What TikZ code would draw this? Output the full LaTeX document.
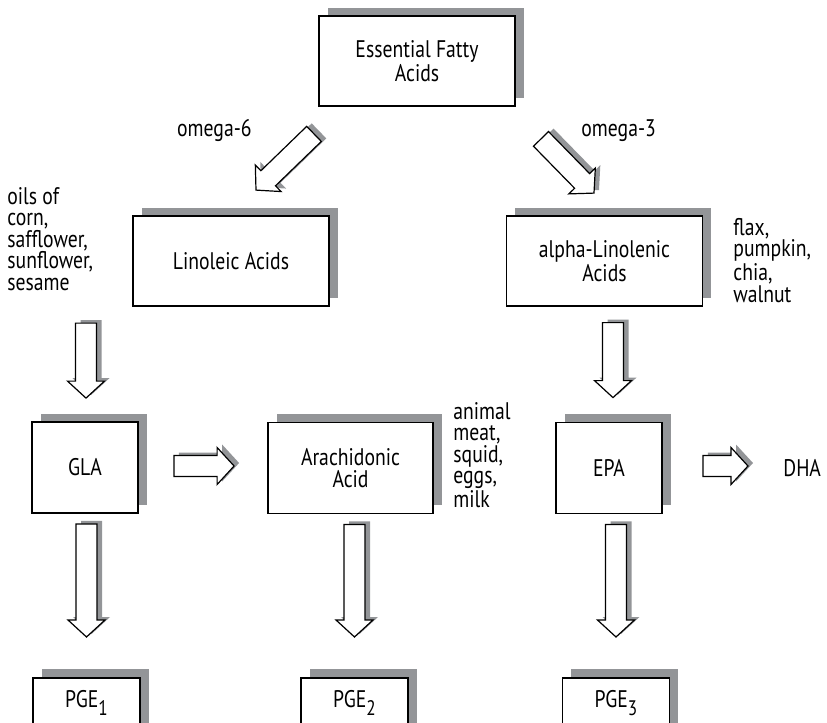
\documentclass[tikz,border=0pt]{standalone}
\usepackage{fontspec}
\setmainfont{PT Sans}[FakeStretch=0.82]
\usetikzlibrary{calc,shadows}
\definecolor{shadowgray}{RGB}{147,149,152}
\newcommand{\diagfont}{\fontsize{12}{10.75}\selectfont}
\newcommand{\lowsub}[1]{\raisebox{-4pt}{\fontsize{10.5}{10.5}\selectfont #1}}
\tikzset{
  acidbox/.style={draw, line width=0.9pt, fill=white, inner sep=0pt, align=center, font=\diagfont,
    general shadow={draw=none, fill=shadowgray, shadow xshift=4.25pt, shadow yshift=4.25pt}},
  sidetext/.style={inner sep=0pt, align=left, font=\diagfont},
  arrowbody/.style={fill=white, draw=black, line width=0.6pt, line join=miter},
  arrowshade/.style={fill=shadowgray},
}
% outline of a hollow block arrow from (fa-s) to (fa-e), moved by #1
\newcommand{\fatpath}[1]{%
  ($(fa-s)!5.25pt!90:(fa-e)+#1$) -- ($(fa-b)!5.25pt!90:(fa-e)+#1$)
  -- ($(fa-b)!9.25pt!90:(fa-e)+#1$) -- ($(fa-e)+#1$)
  -- ($(fa-b)!9.25pt!-90:(fa-e)+#1$) -- ($(fa-b)!5.25pt!-90:(fa-e)+#1$)
  -- ($(fa-s)!5.25pt!-90:(fa-e)+#1$) -- cycle}
\newcommand{\fatarrow}[2]{%
  \coordinate (fa-s) at #1;
  \coordinate (fa-e) at #2;
  \coordinate (fa-b) at ($(fa-e)!8.5pt!(fa-s)$);
  \fill[arrowshade] \fatpath{(2.5pt,1.5pt)};
  \draw[arrowbody] \fatpath{(0pt,0pt)};
}

\begin{document}
\begin{tikzpicture}[x=0.5pt, y=-0.5pt]
  \clip (0,0) rectangle (827,723);

  % boxes
  \node[acidbox, minimum width=98pt, minimum height=45pt] (efa) at (417,61) {Essential Fatty\\Acids};
  \node[acidbox, minimum width=98pt, minimum height=45pt] (lin) at (231,261) {Linoleic Acids};
  \node[acidbox, minimum width=98pt, minimum height=45pt] (aln) at (604.5,261) {alpha-Linolenic\\Acids};
  \node[acidbox, minimum width=53pt, minimum height=45.5pt] (gla) at (85,467.5) {GLA};
  \node[acidbox, minimum width=82.5pt, minimum height=45.5pt] (ara) at (350.5,468) {Arachidonic\\Acid};
  \node[acidbox, minimum width=53pt, minimum height=45.5pt] (epa) at (609,468) {EPA};
  \node[acidbox, anchor=north, minimum width=53.5pt, inner ysep=6pt, text height=9pt, text depth=40pt] (pge1) at (86.5,677) {PGE\lowsub{1}};
  \node[acidbox, anchor=north, minimum width=53.5pt, inner ysep=6pt, text height=9pt, text depth=40pt] (pge2) at (354.5,677) {PGE\lowsub{2}};
  \node[acidbox, anchor=north, minimum width=53.5pt, inner ysep=6pt, text height=9pt, text depth=40pt] (pge3) at (616,677) {PGE\lowsub{3}};

  % texts
  \node[sidetext, anchor=base east] (om6) at (252,136) {omega-6};
  \node[sidetext, anchor=base west] (om3) at (581,136) {omega-3};
  \node[sidetext, anchor=north west] (oils) at (7,187) {oils of\\corn,\\safflower,\\sunflower,\\sesame};
  \node[sidetext, anchor=north west] (seeds) at (733,218) {flax,\\pumpkin,\\chia,\\walnut};
  \node[sidetext, anchor=north west] (meat) at (453,402) {animal\\meat,\\squid,\\eggs,\\milk};
  \node[sidetext, anchor=west] (dha) at (783,468) {DHA};

  % arrows
  \fatarrow{($(efa.south)+(-103,27)$)}{($(lin.north)+(25,-25)$)}
  \fatarrow{($(efa.south)+(124,32)$)}{($(aln.north)+(-10.5,-22)$)}
  \fatarrow{($(gla.north)+(1,-98)$)}{($(gla.north)+(1,-23)$)}
  \fatarrow{($(epa.north)+(4,-99)$)}{($(epa.north)+(4,-24)$)}
  \fatarrow{($(gla.east)+(35,-1.5)$)}{($(ara.west)+(-33,-2)$)}
  \fatarrow{($(epa.east)+(40,-2)$)}{($(dha.west)+(-35,-2)$)}
  \fatarrow{($(gla.south -| pge1.north)+(0,10)$)}{($(pge1.north)+(0,-40)$)}
  \fatarrow{($(ara.south -| pge2.north)+(0,10)$)}{($(pge2.north)+(0,-40)$)}
  \fatarrow{($(epa.south -| pge3.north)+(0,10)$)}{($(pge3.north)+(0,-40)$)}
\end{tikzpicture}
\end{document}
